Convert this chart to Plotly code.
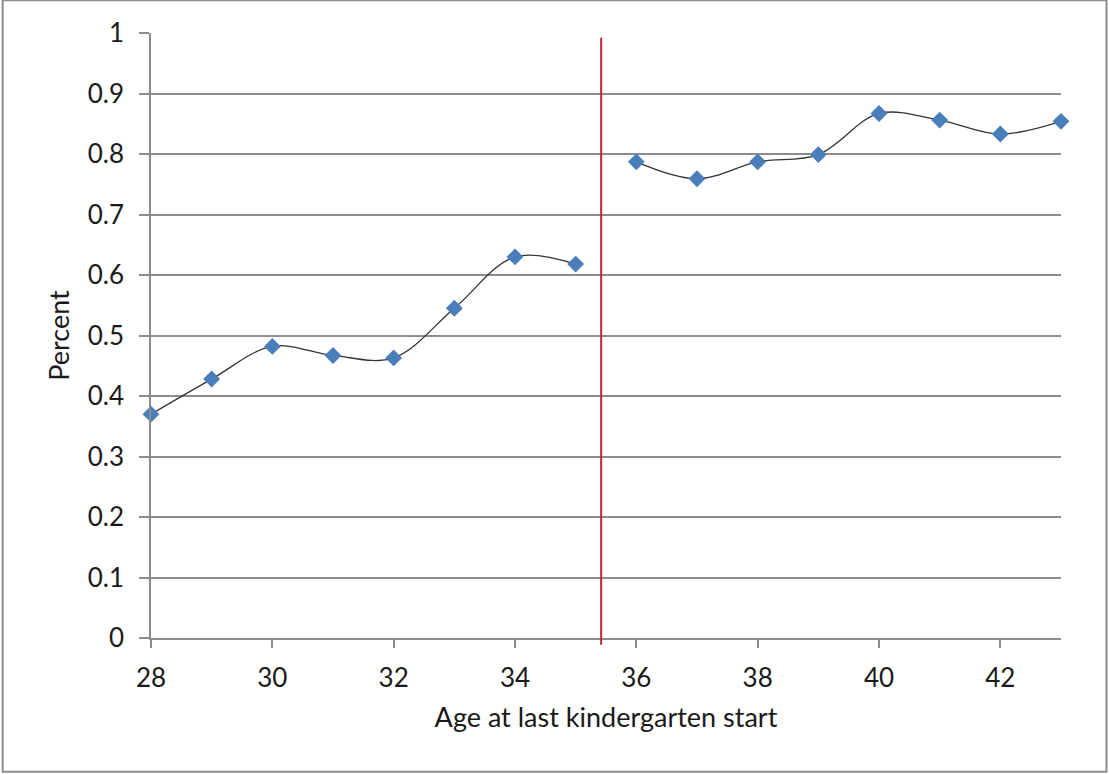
import plotly.graph_objects as go

ages = [28, 29, 30, 31, 32, 33, 34, 35, 36, 37, 38, 39, 40, 41, 42, 43]
percent = [0.370, 0.428, 0.482, 0.467, 0.463, 0.545, 0.630, 0.618,
           0.787, 0.759, 0.787, 0.799, 0.867, 0.856, 0.833, 0.854]
cutoff = 35.42
x_title = "Age at last kindergarten start"
y_title = "Percent"

FONT = "Lato, Carlito, Calibri, sans-serif"
GRID = "#8c8c8c"

left_x = [a for a in ages if a < cutoff]
left_y = [p for a, p in zip(ages, percent) if a < cutoff]
right_x = [a for a in ages if a > cutoff]
right_y = [p for a, p in zip(ages, percent) if a > cutoff]

fig = go.Figure()
for xs, ys in [(left_x, left_y), (right_x, right_y)]:
    fig.add_trace(go.Scatter(
        x=xs, y=ys, mode="lines+markers",
        line=dict(color="#333333", width=1.3, shape="spline", smoothing=1.0),
        marker=dict(symbol="diamond", size=13, color="#4a7ebb"),
        cliponaxis=False, showlegend=False,
    ))

# cutoff line (y in paper units == data units because y range is [0, 1])
fig.add_shape(type="line", xref="x", yref="paper", x0=cutoff, x1=cutoff,
              y0=-0.011, y1=0.992, line=dict(color="#c0282d", width=2))

# outer frame
fig.add_shape(type="rect", xref="paper", yref="paper",
              x0=-0.163, x1=1.05, y0=-0.221, y1=1.054,
              line=dict(color="#8c8c8c", width=2), layer="below")

fig.update_layout(
    width=1109, height=774,
    margin=dict(l=151, r=48, t=33, b=136),
    paper_bgcolor="white", plot_bgcolor="white",
    font=dict(family=FONT, size=26, color="#1a1a1a"),
)
fig.update_xaxes(
    range=[28, 43], tick0=28, dtick=2, showgrid=False,
    showline=True, linecolor=GRID, linewidth=1.5,
    ticks="outside", ticklen=8, tickcolor=GRID, tickwidth=1.5,
    ticklabelstandoff=8,
    title=dict(text=x_title, font=dict(size=27), standoff=16),
    zeroline=False,
)
fig.update_yaxes(
    range=[0, 1], tick0=0, dtick=0.1, showgrid=True, gridcolor=GRID, gridwidth=1.5,
    showline=True, linecolor=GRID, linewidth=1.5,
    ticks="outside", ticklen=10, tickcolor=GRID, tickwidth=1.5,
    ticklabelstandoff=10,
    tickformat="~g",
    title=dict(text=y_title, font=dict(size=27), standoff=10),
    zeroline=False,
)

fig.write_html("out.html", config={"displayModeBar": False},
               post_script="document.body.style.margin='0';")
